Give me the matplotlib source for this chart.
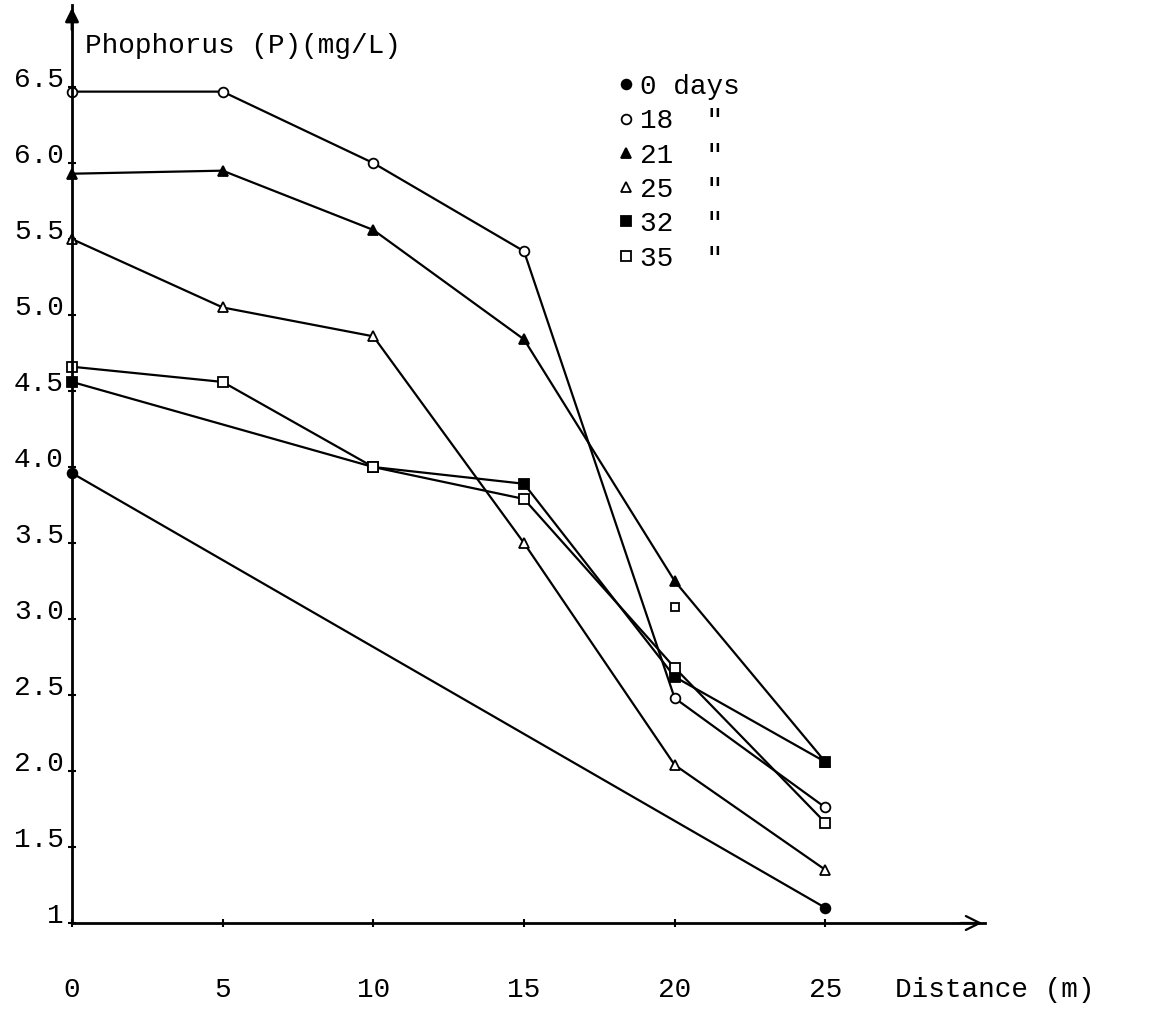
import matplotlib.pyplot as plt

# distance (m) and phosphorus (mg/L) per sampling day
x_0 = [0, 25]
p_0 = [3.96, 1.10]

x_18 = [0, 5, 10, 15, 20, 25]
p_18 = [6.47, 6.47, 6.0, 5.42, 2.48, 1.76]

x_21 = [0, 5, 10, 15, 20, 25]
p_21 = [5.93, 5.95, 5.56, 4.84, 3.25, 2.06]

x_25 = [0, 5, 10, 15, 20, 25]
p_25 = [5.5, 5.05, 4.86, 3.5, 2.04, 1.35]

x_32 = [0, 10, 15, 20, 25]
p_32 = [4.56, 4.0, 3.89, 2.62, 2.06]

x_35 = [0, 5, 10, 15, 20, 25]
p_35 = [4.66, 4.56, 4.0, 3.79, 2.68, 1.66]

# stray 35-day marker drawn off the line at 20 m
x_35_extra = [20]
p_35_extra = [3.08]

y_ticks = [1, 1.5, 2.0, 2.5, 3.0, 3.5, 4.0, 4.5, 5.0, 5.5, 6.0, 6.5]
y_tick_labels = ["1", "1.5", "2.0", "2.5", "3.0", "3.5", "4.0", "4.5", "5.0", "5.5", "6.0", "6.5"]
x_ticks = [0, 5, 10, 15, 20, 25]

plt.rcParams["font.family"] = ["Liberation Mono", "DejaVu Sans Mono"]
FS = 20

fig = plt.figure(figsize=(11.64, 10.09), dpi=100)
ax = fig.add_axes([72 / 1164, 86 / 1009, 913 / 1164, 918 / 1009])

line_kw = dict(color="black", linewidth=1.6, markersize=7, markeredgewidth=1.3, clip_on=False)
ax.plot(x_0, p_0, marker="o", markerfacecolor="black", label="0 days", **line_kw)
ax.plot(x_18, p_18, marker="o", markerfacecolor="white", label='18  "', **line_kw)
ax.plot(x_21, p_21, marker="^", markerfacecolor="black", label='21  "', **line_kw)
ax.plot(x_25, p_25, marker="^", markerfacecolor="white", label='25  "', **line_kw)
ax.plot(x_32, p_32, marker="s", markerfacecolor="black", label='32  "', **line_kw)
ax.plot(x_35, p_35, marker="s", markerfacecolor="white", label='35  "', **line_kw)
ax.plot(x_35_extra, p_35_extra, linestyle="none", marker="s", markerfacecolor="white",
        color="black", markersize=6, markeredgewidth=1.3)

ax.set_xlim(0, 30.3)
ax.set_ylim(1, 7.04)

for side in ["top", "right"]:
    ax.spines[side].set_visible(False)
for side in ["left", "bottom"]:
    ax.spines[side].set_linewidth(2)

# arrow heads on both axes
ax.annotate("", xy=(1.0, 0), xytext=(0.97, 0), xycoords="axes fraction",
            arrowprops=dict(arrowstyle="->", color="black", lw=1.6, mutation_scale=25))
ax.annotate("", xy=(0, 1.0), xytext=(0, 0.97), xycoords="axes fraction",
            arrowprops=dict(arrowstyle="-|>", color="black", lw=2, mutation_scale=20))

ax.set_yticks(y_ticks)
ax.set_yticklabels(y_tick_labels, fontsize=FS, va="baseline")
ax.set_xticks(x_ticks)
ax.set_xticklabels([str(v) for v in x_ticks], fontsize=FS)
ax.tick_params(axis="y", direction="inout", length=6, width=1.5, pad=3)
ax.tick_params(axis="x", direction="inout", length=6, width=1.5, pad=36)

ax.text(0.43, 6.77, "Phophorus (P)(mg/L)", fontsize=FS, va="center", ha="left")
fig.text(895 / 1164, 1 - 990 / 1009, "Distance (m)", fontsize=FS, va="center", ha="left")

ax.legend(loc="upper left", bbox_to_anchor=(612 / 1164, 1 - 60 / 1009),
          bbox_transform=fig.transFigure, frameon=False, fontsize=FS,
          handlelength=0, handletextpad=0.5, labelspacing=0.3, borderpad=0,
          markerscale=1.0)

plt.savefig("out.png", dpi=100)
plt.close()
